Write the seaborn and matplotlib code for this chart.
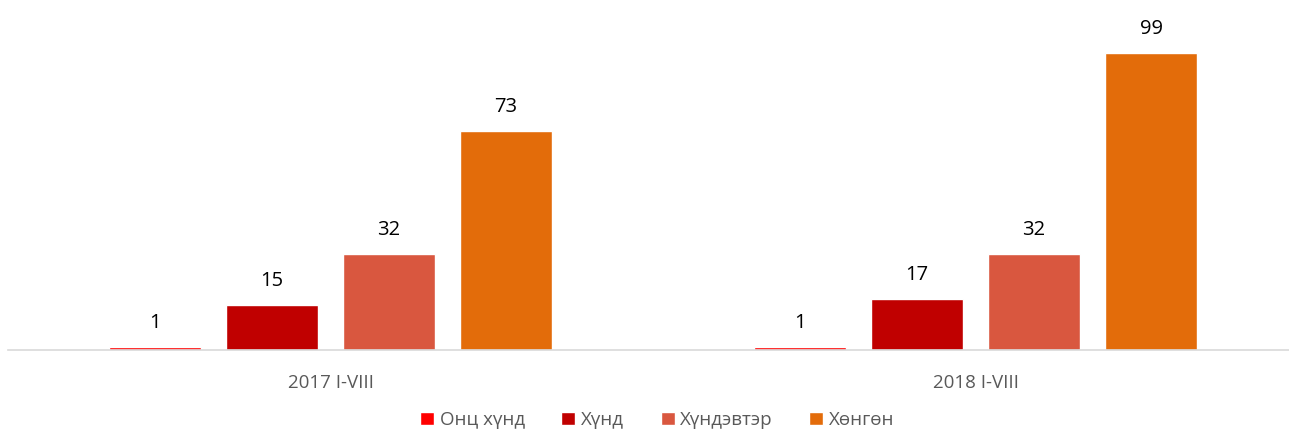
import matplotlib
matplotlib.use("Agg")
import matplotlib.pyplot as plt
import seaborn as sns
import pandas as pd

categories = ["2017 I-VIII", "2018 I-VIII"]
series = ["Онц хүнд", "Хүнд", "Хүндэвтэр", "Хөнгөн"]
values_2017 = [1, 15, 32, 73]
values_2018 = [1, 17, 32, 99]
colors = ["#FF0000", "#C00000", "#D9573F", "#E36C0A"]

rows = []
for cat, vals in zip(categories, [values_2017, values_2018]):
    for s, v in zip(series, vals):
        rows.append({"cat": cat, "series": s, "value": v})
df = pd.DataFrame(rows)

sns.set_theme(style="white")
plt.rcParams['font.family'] = ['Open Sans', 'DejaVu Sans']

fig = plt.figure(figsize=(12.89, 4.32), dpi=100)
ax = fig.add_axes([8/1289, 82/432, 1290/1289, 330/432])
sns.barplot(data=df, x="cat", y="value", hue="series", palette=colors,
            hue_order=series, order=categories, width=0.7256, gap=0.214,
            ax=ax, legend=True, saturation=1)
ax.set_ylim(0, 110)
ax.set_xlim(-0.5, 1.5)
for c in ax.containers:
    ax.bar_label(c, labels=[f"{int(v)}" for v in c.datavalues], padding=10,
                 fontsize=14.5, color="#000000")
for sp in ["top", "left", "right"]:
    ax.spines[sp].set_visible(False)
ax.spines["bottom"].set_color("#D9D9D9")
ax.spines["bottom"].set_linewidth(1.2)
ax.set_yticks([])
ax.set_xlabel("")
ax.set_ylabel("")
ax.tick_params(axis="x", length=0, pad=17, labelsize=13.5, labelcolor="#595959")
leg = ax.legend(loc="lower center", bbox_to_anchor=(0.5033, -0.262), ncol=4,
                frameon=False, fontsize=13.5, handlelength=0.75, handleheight=0.75,
                handletextpad=0.3, columnspacing=1.95, borderaxespad=0)
for t in leg.get_texts():
    t.set_color("#595959")
fig.savefig("out.png", dpi=100)
